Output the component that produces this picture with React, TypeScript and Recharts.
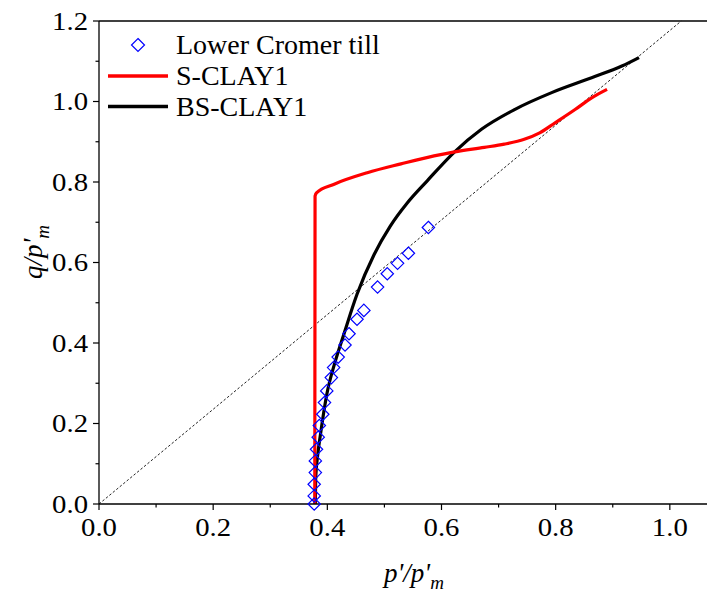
import { ComposedChart, Line, Scatter, XAxis, YAxis, ReferenceLine, Legend } from "recharts";

const FONT = '"Times New Roman", Times, serif';

// measured points, Lower Cromer till
const cromerTill = [
  { p: 0.377, q: 0.0 }, { p: 0.377, q: 0.02 }, { p: 0.377, q: 0.049 }, { p: 0.379, q: 0.078 },
  { p: 0.379, q: 0.107 }, { p: 0.381, q: 0.136 }, { p: 0.384, q: 0.166 }, { p: 0.386, q: 0.195 },
  { p: 0.392, q: 0.223 }, { p: 0.395, q: 0.252 }, { p: 0.399, q: 0.281 }, { p: 0.407, q: 0.314 },
  { p: 0.411, q: 0.339 }, { p: 0.419, q: 0.365 }, { p: 0.431, q: 0.395 }, { p: 0.438, q: 0.423 },
  { p: 0.452, q: 0.459 }, { p: 0.464, q: 0.481 }, { p: 0.488, q: 0.539 }, { p: 0.505, q: 0.572 },
  { p: 0.523, q: 0.598 }, { p: 0.542, q: 0.623 }, { p: 0.577, q: 0.687 },
];

const sClay1 = [
  { p: 0.378, q: 0.0 }, { p: 0.3785, q: 0.765 }, { p: 0.381, q: 0.773 },
  { p: 0.411, q: 0.794 }, { p: 0.47, q: 0.823 }, { p: 0.529, q: 0.845 }, { p: 0.587, q: 0.865 },
  { p: 0.623, q: 0.875 }, { p: 0.675, q: 0.886 }, { p: 0.71, q: 0.894 }, { p: 0.745, q: 0.906 },
  { p: 0.772, q: 0.922 }, { p: 0.799, q: 0.947 }, { p: 0.834, q: 0.98 }, { p: 0.863, q: 1.009 },
  { p: 0.89, q: 1.03 },
];

const bsClay1 = [
  { p: 0.379, q: 0.0 }, { p: 0.3795, q: 0.06 }, { p: 0.383, q: 0.12 }, { p: 0.388, q: 0.173 },
  { p: 0.399, q: 0.272 }, { p: 0.414, q: 0.355 }, { p: 0.429, q: 0.422 }, { p: 0.452, q: 0.521 },
  { p: 0.482, q: 0.62 }, { p: 0.51, q: 0.69 }, { p: 0.54, q: 0.748 }, { p: 0.575, q: 0.803 },
  { p: 0.623, q: 0.875 }, { p: 0.67, q: 0.931 }, { p: 0.728, q: 0.98 }, { p: 0.793, q: 1.022 },
  { p: 0.863, q: 1.059 }, { p: 0.916, q: 1.088 }, { p: 0.946, q: 1.109 },
];

// critical state line, q = M p'
const cslLine = [{ p: 0, q: 0 }, { p: 1.02, q: 1.2 }];

const xTicks = [0, 0.1, 0.2, 0.3, 0.4, 0.5, 0.6, 0.7, 0.8, 0.9, 1.0, 1.1, 1.2];
const yTicks = [0, 0.1, 0.2, 0.3, 0.4, 0.5, 0.6, 0.7, 0.8, 0.9, 1.0, 1.1, 1.2];

const isMajor = (v: number) => Math.round(v * 10) % 2 === 0;

const tickStyle = { fontFamily: FONT, fontSize: 25, fill: "#000" };
const textStyle = { fontFamily: FONT, fontSize: 28, fill: "#000" };
const labelStyle = { fontFamily: FONT, fontSize: 27, fontStyle: "italic" as const, fill: "#000" };

const XTick = ({ x, y, payload }: any) => {
  const major = isMajor(payload.value);
  return (
    <g>
      <line x1={x} x2={x} y1={y} y2={y + (major ? 6 : 3.5)} stroke="#000" strokeWidth={1.2} />
      {major && payload.value < 1.15 && (
        <text transform={`translate(${x},${y + 32}) scale(1.15,1)`} textAnchor="middle" style={tickStyle}>
          {payload.value.toFixed(1)}
        </text>
      )}
    </g>
  );
};

const YTick = ({ x, y, payload }: any) => {
  const major = isMajor(payload.value);
  return (
    <g>
      <line x1={x - (major ? 6 : 3.5)} x2={x} y1={y} y2={y} stroke="#000" strokeWidth={1.2} />
      {major && (
        <text transform={`translate(${x - 11},${y + 8.5}) scale(1.15,1)`} textAnchor="end" style={tickStyle}>
          {payload.value.toFixed(1)}
        </text>
      )}
    </g>
  );
};

const Diamond = ({ cx, cy }: any) => (
  <polygon
    points={`${cx},${cy - 6.2} ${cx + 6.2},${cy} ${cx},${cy + 6.2} ${cx - 6.2},${cy}`}
    fill="none"
    stroke="#0000ff"
    strokeWidth={1.2}
  />
);

const LegendBox = () => (
  <svg width={400} height={120} style={{ display: "block" }}>
    <polygon points="130,30.5 136.5,37 130,43.5 123.5,37" fill="none" stroke="#0000ff" strokeWidth={1.2} />
    <text x={168} y={46} style={textStyle}>Lower Cromer till</text>
    <line x1={100} x2={160} y1={68} y2={68} stroke="#ff0000" strokeWidth={3.3} />
    <text x={168} y={77} style={textStyle}>S-CLAY1</text>
    <line x1={100} x2={160} y1={98.5} y2={98.5} stroke="#000" strokeWidth={3.3} />
    <text x={168} y={107.5} style={textStyle}>BS-CLAY1</text>
  </svg>
);

const YLabel = () => (
  <text x={33.5} y={244} transform="rotate(-90, 33.5, 244)" textAnchor="middle" style={labelStyle}>
    q/p'<tspan dy={7} style={{ fontSize: 19 }}>m</tspan>
  </text>
);

const XLabel = () => (
  <text x={406} y={574} textAnchor="middle" style={labelStyle}>
    p'/p'<tspan dy={7} style={{ fontSize: 19 }}>m</tspan>
  </text>
);

export default function App() {
  return (
    <div style={{ width: 707, height: 584, overflow: "hidden", background: "#fff" }}>
      <ComposedChart width={786} height={584} margin={{ top: 13, right: 10, left: 0, bottom: 0 }}>
        <XAxis
          type="number"
          dataKey="p"
          domain={[0, 1.2]}
          ticks={xTicks}
          interval={0}
          height={88}
          tickSize={0}
          tickMargin={0}
          tick={<XTick />}
          axisLine={{ stroke: "#000", strokeWidth: 1.3 }}
          label={{ content: () => <XLabel /> }}
        />
        <YAxis
          type="number"
          dataKey="q"
          domain={[0, 1.2]}
          ticks={yTicks}
          interval={0}
          width={91}
          tickSize={0}
          tickMargin={0}
          tick={<YTick />}
          axisLine={{ stroke: "#000", strokeWidth: 1.3 }}
          label={{ content: () => <YLabel /> }}
        />
        <ReferenceLine y={1.2} stroke="#000" strokeWidth={1.3} />
        <Legend
          layout="vertical"
          align="center"
          verticalAlign="middle"
          wrapperStyle={{ left: 0, top: 0, width: 400, height: 120 }}
          content={() => <LegendBox />}
        />
        <Line
          data={cslLine}
          dataKey="q"
          type="linear"
          stroke="#222"
          strokeWidth={1}
          strokeDasharray="2.5 2"
          dot={false}
          legendType="none"
          isAnimationActive={false}
        />
        <Line
          data={bsClay1}
          dataKey="q"
          name="BS-CLAY1"
          type="monotone"
          stroke="#000"
          strokeWidth={3.2}
          dot={false}
          isAnimationActive={false}
        />
        <Line
          data={sClay1}
          dataKey="q"
          name="S-CLAY1"
          type="monotone"
          stroke="#ff0000"
          strokeWidth={3.2}
          dot={false}
          isAnimationActive={false}
        />
        <Scatter
          data={cromerTill}
          dataKey="q"
          name="Lower Cromer till"
          shape={<Diamond />}
          isAnimationActive={false}
        />
      </ComposedChart>
    </div>
  );
}
